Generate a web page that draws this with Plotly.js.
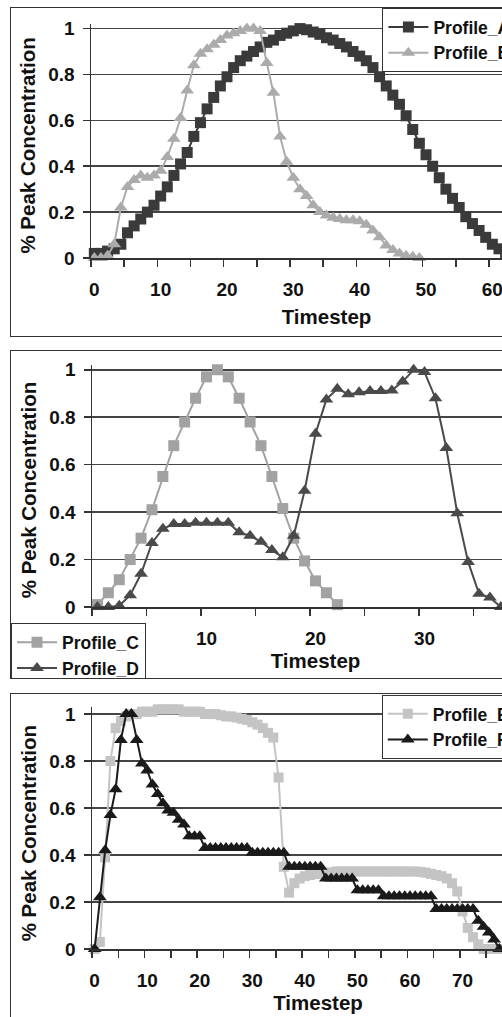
<!DOCTYPE html>
<html>
<head>
<meta charset="utf-8">
<script src="https://cdn.plot.ly/plotly-3.0.1.min.js"></script>
<style>
  html, body { margin: 0; padding: 0; background: #fff; overflow: hidden; width: 502px; height: 1017px; }
  .frame { position: absolute; left: 10px; border: 1px solid #333; background: #fff; }
</style>
</head>
<body>
<div id="p1" class="frame" style="top:7px;"></div>
<div id="p2" class="frame" style="top:350px;"></div>
<div id="p3" class="frame" style="top:693px;"></div>
<script>
// ---------- Data ----------
const profileNames = ["Profile_A", "Profile_B", "Profile_C", "Profile_D", "Profile_E", "Profile_F"];

const profileA = [0.02,0.02,0.03,0.04,0.06,0.11,0.14,0.17,0.20,0.23,0.27,0.31,0.36,0.41,0.46,0.53,0.59,0.65,0.70,0.75,
  0.79,0.83,0.86,0.88,0.90,0.92,0.94,0.95,0.97,0.98,0.99,1.00,0.995,0.985,0.975,0.96,0.95,0.935,0.92,0.90,
  0.88,0.86,0.83,0.79,0.75,0.71,0.67,0.62,0.56,0.50,0.45,0.40,0.35,0.30,0.26,0.22,0.18,0.15,0.12,0.09,
  0.06,0.04,0.02,0.01];
const profileB = [0,0,0.01,0.06,0.22,0.31,0.34,0.36,0.35,0.36,0.38,0.44,0.52,0.61,0.73,0.84,0.89,0.91,0.93,0.95,
  0.97,0.98,0.99,1.00,1.00,0.99,0.85,0.72,0.53,0.42,0.35,0.30,0.27,0.23,0.20,0.185,0.175,0.17,0.165,0.165,
  0.16,0.145,0.12,0.09,0.055,0.035,0.02,0.01,0.005,0];
const profileC = [0.01,0.06,0.115,0.20,0.29,0.41,0.55,0.68,0.78,0.88,0.97,1.00,0.97,0.88,0.78,0.68,0.55,0.415,0.29,0.194,
  0.11,0.06,0.01];
const profileD = [0,0,0.005,0.05,0.14,0.27,0.33,0.35,0.35,0.355,0.355,0.355,0.355,0.315,0.30,0.275,0.24,0.21,0.30,0.49,
  0.73,0.875,0.92,0.897,0.905,0.91,0.91,0.913,0.95,1.00,0.99,0.88,0.67,0.395,0.19,0.056,0.04,0];
const profileE = [0,0.03,0.39,0.80,0.94,0.97,0.99,1.00,1.00,1.01,1.01,1.01,1.02,1.02,1.02,1.02,1.02,1.01,1.01,1.01,
  1.01,1.00,1.00,1.00,0.995,0.99,0.99,0.985,0.98,0.975,0.965,0.955,0.94,0.92,0.90,0.73,0.35,0.24,0.28,0.30,
  0.31,0.315,0.32,0.32,0.325,0.325,0.33,0.33,0.33,0.33,0.33,0.33,0.33,0.33,0.33,0.33,0.33,0.33,0.33,0.33,
  0.33,0.33,0.328,0.325,0.32,0.315,0.31,0.30,0.28,0.245,0.16,0.09,0.05,0.02,0,0,0,0,0];
const profileF = [0,0.22,0.42,0.57,0.68,0.89,1.00,1.00,0.89,0.79,0.76,0.70,0.66,0.62,0.59,0.58,0.55,0.53,0.48,0.48,
  0.48,0.43,0.43,0.43,0.43,0.43,0.43,0.43,0.43,0.43,0.41,0.41,0.41,0.41,0.41,0.41,0.41,0.35,0.35,0.35,
  0.35,0.35,0.35,0.35,0.30,0.30,0.30,0.30,0.30,0.30,0.25,0.25,0.25,0.25,0.25,0.225,0.225,0.225,0.225,0.225,
  0.225,0.225,0.225,0.225,0.225,0.17,0.17,0.17,0.17,0.17,0.17,0.17,0.17,0.12,0.095,0.07,0.04,0,0];

const yTickVals = [0, 0.2, 0.4, 0.6, 0.8, 1];
const xTickVals1 = [0, 10, 20, 30, 40, 50, 60, 70];
const xTickVals2 = [10, 20, 30, 40];          // "0" is hidden behind the legend in the original
const xTickVals3 = [0, 10, 20, 30, 40, 50, 60, 70, 80];
const xTitle = "Timestep";
const yTitle = "% Peak Concentration";

// ---------- Helpers ----------
const FONT = "Liberation Sans, Arial, sans-serif";
const steps = arr => arr.map((_, i) => i);

function trace(name, y, color, symbol, msize) {
  return {
    type: "scatter", mode: "lines+markers", name: name,
    x: steps(y), y: y, cliponaxis: false,
    line: { color: color, width: 2 },
    marker: { color: color, symbol: symbol, size: msize, line: { width: 0 } }
  };
}

function layout(o) {
  const W = 600;
  return {
    width: W, height: o.H,
    margin: { l: o.l, r: W - o.l - o.pw, t: o.t, b: o.H - o.t - o.ph, pad: 0, autoexpand: false },
    paper_bgcolor: "#fff", plot_bgcolor: "#fff",
    font: { family: FONT, color: "#111", size: 19, weight: "bold" },
    showlegend: true,
    legend: {
      xref: "container", yref: "container", x: o.lx, y: o.ly, xanchor: "left", yanchor: "top",
      bgcolor: "#fff", bordercolor: "#333", borderwidth: 1,
      font: { family: FONT, size: 17.5, color: "#111", weight: "bold" },
      itemwidth: 40, tracegroupgap: 0
    },
    xaxis: {
      range: o.xr, tickmode: "array", tickvals: o.xtv, ticks: "", showgrid: false, zeroline: false,
      showline: true, linecolor: "#333", linewidth: 1.5,
      tickfont: { family: FONT, size: 19, weight: "bold", color: "#111" },
      ticklabelstandoff: 14,
      minor: { tickmode: "linear", tick0: 4.5, dtick: 5, ticks: "outside", ticklen: 7, tickwidth: 1.5, tickcolor: "#333", showgrid: false },
      title: { text: xTitle, font: { family: FONT, size: 20.5, weight: "bold", color: "#111" }, standoff: o.xs }
    },
    yaxis: {
      range: o.yr, tickvals: yTickVals, ticks: "outside", ticklen: 7, tickwidth: 1.5, tickcolor: "#333",
      showgrid: true, gridcolor: "#444", gridwidth: 1.5, zeroline: false,
      showline: true, linecolor: "#333", linewidth: 1.5,
      tickfont: { family: FONT, size: 19, weight: "bold", color: "#111" },
      ticklabelstandoff: 4
    },
    annotations: [{
      text: yTitle, textangle: -90, showarrow: false,
      xref: "paper", x: 0, xanchor: "center", xshift: -(o.l - 17),
      yref: "y", y: 0.49, yanchor: "middle",
      font: { family: FONT, size: 20.5, weight: "bold", color: "#111" }
    }]
  };
}

const cfg = { displayModeBar: false, staticPlot: true };

Plotly.newPlot("p1", [
  trace(profileNames[0], profileA, "#3a3a3a", "square", 11),
  trace(profileNames[1], profileB, "#ababab", "triangle-up", 12)
], layout({ H: 328, l: 80, t: 15.7, pw: 71 * 6.63, ph: 234, xr: [-0.5, 70.5], yr: [0, 1.02], xtv: xTickVals1, lx: 0.619, ly: 1, xs: 10 }), cfg);

Plotly.newPlot("p2", [
  trace(profileNames[2], profileC, "#a2a2a2", "square", 11),
  trace(profileNames[3], profileD, "#4a4a4a", "triangle-up", 12)
], layout({ H: 327, l: 80.5, t: 14.3, pw: 41 * 10.92, ph: 241.4, xr: [-0.5, 40.5], yr: [0, 1.02], xtv: xTickVals2, lx: 0, ly: 0.1673, xs: 0 }), cfg);

Plotly.newPlot("p3", [
  trace(profileNames[4], profileE, "#c4c4c4", "square", 10),
  trace(profileNames[5], profileF, "#1a1a1a", "triangle-up", 12)
], layout({ H: 330, l: 80.5, t: 13.3, pw: 86 * 5.26, ph: 242, xr: [-0.5, 85.5], yr: [0, 1.03], xtv: xTickVals3, lx: 0.618, ly: 0.997, xs: 0 }), cfg);
</script>
</body>
</html>
